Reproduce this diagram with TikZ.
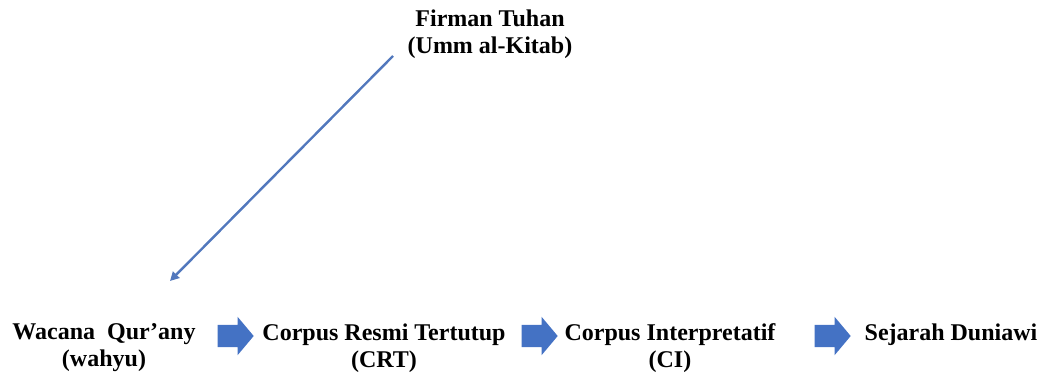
\documentclass[tikz,border=0pt]{standalone}
\usepackage{fontspec}
\setmainfont{Liberation Serif}
\usetikzlibrary{shapes.arrows,arrows.meta}
\definecolor{arrowblue}{HTML}{4472C4}
\definecolor{lineblue}{HTML}{5278BD}
\tikzset{
  lbl/.style={align=center, inner sep=0pt, font=\fontsize{24}{27}\selectfont\bfseries, text=black},
  blockarrow/.style={single arrow, draw=none, fill=arrowblue, minimum height=36pt,
    inner xsep=0pt, inner ysep=11pt, text width=0pt, text height=0pt, text depth=0pt,
    single arrow head extend=8pt, single arrow tip angle=100},
  diag/.style={draw=lineblue, line width=2.4pt, -{Triangle[length=9pt,width=9pt]}}
}
\begin{document}
\begin{tikzpicture}[x=1pt,y=-1pt]
\useasboundingbox (0,0) rectangle (1058,382);
\node[lbl] (firman) at (490,34) {Firman Tuhan\\(Umm al-Kitab)};
\node[lbl] (wacana) at (104,348) {Wacana\ \ Qur'any\\(wahyu)};
\node[lbl] (crt) at (384,348) {Corpus Resmi Tertutup\\(CRT)};
\node[lbl] (ci) at (670,348) {Corpus Interpretatif\\(CI)};
\node[lbl, anchor=center] (sejarah) at (951,335) {Sejarah Duniawi};
\node[blockarrow] (a1) at (231,336) {};
\node[blockarrow] (a2) at (535,336) {};
\node[blockarrow] (a3) at (828,336) {};
\coordinate (s) at (393,56);
\coordinate (e) at (170,281);
\draw[diag] (s) -- (e);
\end{tikzpicture}
\end{document}
